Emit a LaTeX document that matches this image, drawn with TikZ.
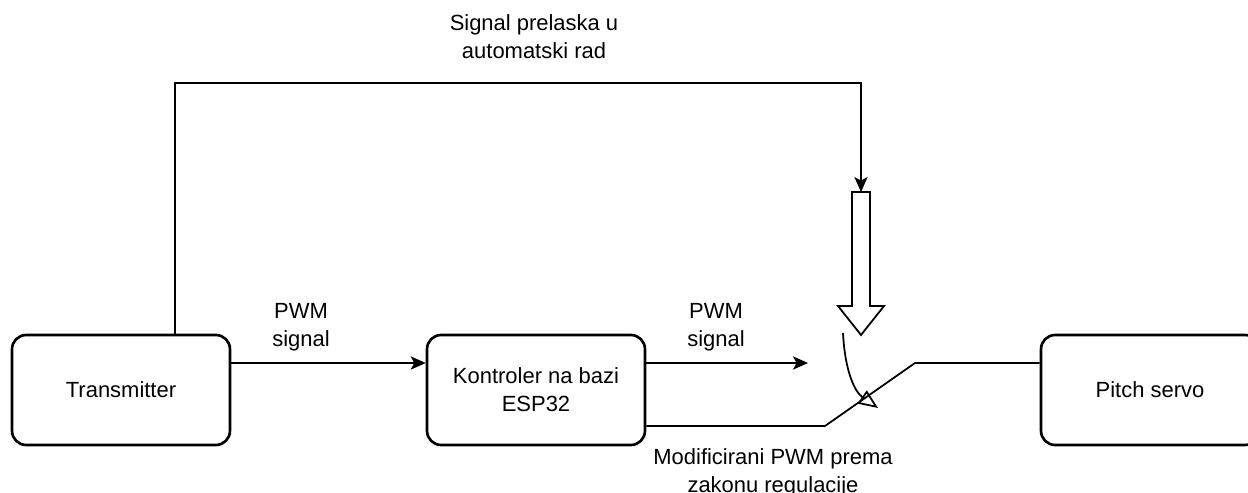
\documentclass[tikz,border=0pt]{standalone}
\usepackage{fontspec}
\setmainfont{Liberation Sans}
\usetikzlibrary{arrows.meta}
\begin{document}
\begin{tikzpicture}[x=0.02cm, y=-0.02cm,
  box/.style={draw, line width=1.5pt, rounded corners=8pt, minimum width=4.36cm, minimum height=2.2cm, align=center, font=\fontsize{12.5}{16}\selectfont},
  lbl/.style={align=center, font=\fontsize{12.5}{16}\selectfont},
  wire/.style={line width=1pt},
  sig/.style={wire, -{Stealth[length=8.5pt, width=7.5pt, inset=2pt]}}]
\useasboundingbox (0,0) rectangle (1248,493);
\node[box] (tx) at (121, 390) {Transmitter};
\node[box] (ctl) at (536, 390) {Kontroler na bazi\\ESP32};
\node[box] (servo) at (1150, 390) {Pitch servo};
\coordinate (txup) at (175, 335);
\coordinate (top) at (861, 83);
\coordinate (swtop) at (861, 192);
\coordinate (sw1) at (808, 363);
\coordinate (swl) at (825, 426);
\coordinate (swr) at (915, 363);
\node[lbl] (sigtxt) at (534, 37) {Signal prelaska u\\automatski rad};
\node[lbl] (pwm1) at (301, 327) {PWM\\signal};
\node[lbl] (pwm2) at (716, 327) {PWM\\signal};
\node[lbl] (modtxt) at (773, 473) {Modificirani PWM prema\\zakonu regulacije};
% switch command
\draw[sig] (txup) |- (top) -- (swtop);
\draw[wire] (852,192) -- (870,192) -- (870,306) -- (884,306) -- (861,335) -- (838,306) -- (852,306) -- cycle;
\draw[wire, -{Triangle[open, length=11pt, width=9pt]}] (843,333) .. controls (845,372) and (855,392) .. (878,408);
% signals
\draw[sig] (tx.east |- sw1) -- (ctl.west |- sw1);
\draw[sig] (ctl.east |- sw1) -- (sw1);
\draw[wire] (ctl.east |- swl) -- (swl) -- (swr) -- (servo.west |- swr);
\end{tikzpicture}
\end{document}
